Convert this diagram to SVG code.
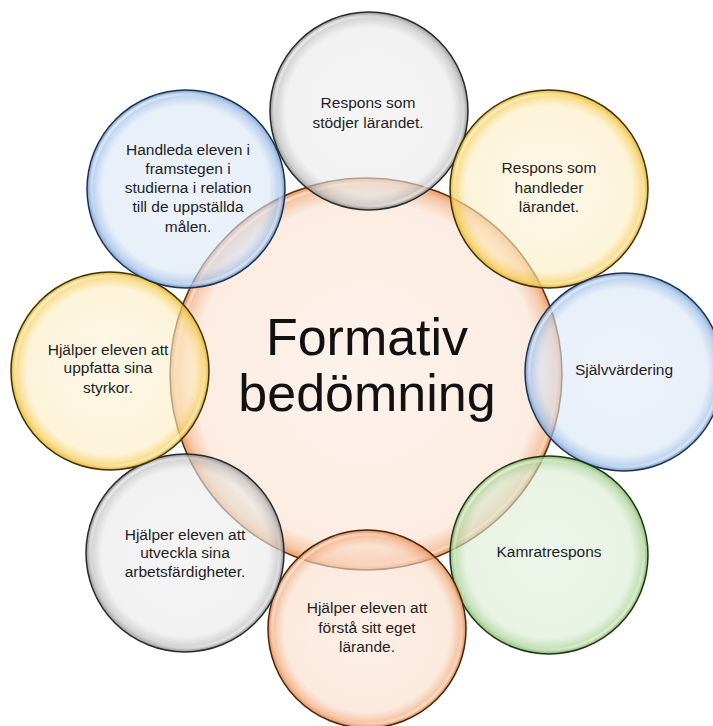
<svg xmlns="http://www.w3.org/2000/svg" width="713" height="726" viewBox="0 0 713 726">
<defs>
<radialGradient id="gCenter" cx="50%" cy="50%" r="50%">
<stop offset="0" stop-color="#fdf3ec"/>
<stop offset="0.88" stop-color="#fcece2"/>
<stop offset="0.96" stop-color="#f5c8a8"/>
<stop offset="1" stop-color="#ec9c68"/>
</radialGradient>
<radialGradient id="gGray" cx="50%" cy="50%" r="50%">
<stop offset="0" stop-color="#efefef" stop-opacity="0.6"/>
<stop offset="0.84" stop-color="#e8e8e8" stop-opacity="0.6"/>
<stop offset="0.95" stop-color="#bdbdbd" stop-opacity="0.7"/>
<stop offset="1" stop-color="#8a8a8a" stop-opacity="0.85"/>
</radialGradient>
<radialGradient id="gBlue" cx="50%" cy="50%" r="50%">
<stop offset="0" stop-color="#e2ebf8" stop-opacity="0.6"/>
<stop offset="0.84" stop-color="#d8e5f6" stop-opacity="0.6"/>
<stop offset="0.95" stop-color="#9dbde6" stop-opacity="0.7"/>
<stop offset="1" stop-color="#6f98cc" stop-opacity="0.85"/>
</radialGradient>
<radialGradient id="gYellow" cx="50%" cy="50%" r="50%">
<stop offset="0" stop-color="#fcf3da" stop-opacity="0.6"/>
<stop offset="0.84" stop-color="#fbecc0" stop-opacity="0.6"/>
<stop offset="0.95" stop-color="#f6cf5e" stop-opacity="0.75"/>
<stop offset="1" stop-color="#e5b22a" stop-opacity="0.9"/>
</radialGradient>
<radialGradient id="gGreen" cx="50%" cy="50%" r="50%">
<stop offset="0" stop-color="#e2f0dd" stop-opacity="0.6"/>
<stop offset="0.84" stop-color="#d8ebd0" stop-opacity="0.6"/>
<stop offset="0.95" stop-color="#a9d196" stop-opacity="0.7"/>
<stop offset="1" stop-color="#7fb267" stop-opacity="0.85"/>
</radialGradient>
<radialGradient id="gOrange" cx="50%" cy="50%" r="50%">
<stop offset="0" stop-color="#fbe6d7" stop-opacity="0.6"/>
<stop offset="0.84" stop-color="#f9dbc7" stop-opacity="0.6"/>
<stop offset="0.95" stop-color="#f2ad80" stop-opacity="0.75"/>
<stop offset="1" stop-color="#e08a52" stop-opacity="0.9"/>
</radialGradient>
<linearGradient id="gloss" x1="0" y1="0" x2="1" y2="1">
<stop offset="0" stop-color="#fff" stop-opacity="0.9"/>
<stop offset="0.35" stop-color="#fff" stop-opacity="0"/>
<stop offset="0.65" stop-color="#fff" stop-opacity="0"/>
<stop offset="1" stop-color="#fff" stop-opacity="0.75"/>
</linearGradient>
</defs>
<style>
.t{font-family:"Liberation Sans",Arial,sans-serif;font-size:15.5px;fill:#1e1e1e;text-anchor:middle}
.big{font-family:"Liberation Sans",Arial,sans-serif;font-size:52px;fill:#111;text-anchor:middle}
.gl{fill:none;stroke:url(#gloss);stroke-width:3}
.ol{stroke-width:1.5}
</style>
<rect width="713" height="726" fill="#fff"/>

<g id="center">
<circle cx="366" cy="374" r="196" fill="url(#gCenter)" stroke="#5a3417" class="ol"/>
<circle cx="366" cy="374" r="191" class="gl"/>
<text class="big" x="367" y="355">Formativ</text>
<text class="big" x="367" y="411">bedömning</text>
</g>

<g id="connectors"></g>

<g id="n-top">
<circle cx="369" cy="111" r="99" fill="url(#gGray)" stroke="#2a2a2a" class="ol"/>
<circle cx="369" cy="111" r="95" class="gl"/>
<text class="t" x="368" y="108">Respons som</text>
<text class="t" x="368" y="128">stödjer lärandet.</text>
</g>

<g id="n-topright">
<circle cx="549" cy="189" r="99" fill="url(#gYellow)" stroke="#3e300a" class="ol"/>
<circle cx="549" cy="189" r="95" class="gl"/>
<text class="t" x="549" y="173">Respons som</text>
<text class="t" x="549" y="193">handleder</text>
<text class="t" x="549" y="212">lärandet.</text>
</g>

<g id="n-right">
<circle cx="624" cy="372" r="99" fill="url(#gBlue)" stroke="#1d3352" class="ol"/>
<circle cx="624" cy="372" r="95" class="gl"/>
<text class="t" x="624" y="375">Självvärdering</text>
</g>

<g id="n-bottomright">
<circle cx="549" cy="555" r="99" fill="url(#gGreen)" stroke="#1f3615" class="ol"/>
<circle cx="549" cy="555" r="95" class="gl"/>
<text class="t" x="549" y="557">Kamratrespons</text>
</g>

<g id="n-bottom">
<circle cx="367" cy="629" r="99" fill="url(#gOrange)" stroke="#45250d" class="ol"/>
<circle cx="367" cy="629" r="95" class="gl"/>
<text class="t" x="367" y="613">Hjälper eleven att</text>
<text class="t" x="367" y="633">förstå sitt eget</text>
<text class="t" x="367" y="652">lärande.</text>
</g>

<g id="n-bottomleft">
<circle cx="185" cy="553" r="99" fill="url(#gGray)" stroke="#2a2a2a" class="ol"/>
<circle cx="185" cy="553" r="95" class="gl"/>
<text class="t" x="185" y="540">Hjälper eleven att</text>
<text class="t" x="185" y="558">utveckla sina</text>
<text class="t" x="185" y="577">arbetsfärdigheter.</text>
</g>

<g id="n-left">
<circle cx="110" cy="371" r="99" fill="url(#gYellow)" stroke="#3e300a" class="ol"/>
<circle cx="110" cy="371" r="95" class="gl"/>
<text class="t" x="108" y="355">Hjälper eleven att</text>
<text class="t" x="108" y="373">uppfatta sina</text>
<text class="t" x="108" y="393">styrkor.</text>
</g>

<g id="n-topleft">
<circle cx="186" cy="189" r="99" fill="url(#gBlue)" stroke="#1d3352" class="ol"/>
<circle cx="186" cy="189" r="95" class="gl"/>
<text class="t" x="188" y="155">Handleda eleven i</text>
<text class="t" x="188" y="174">framstegen i</text>
<text class="t" x="188" y="193">studierna i relation</text>
<text class="t" x="188" y="212">till de uppställda</text>
<text class="t" x="188" y="232">målen.</text>
</g>
</svg>
